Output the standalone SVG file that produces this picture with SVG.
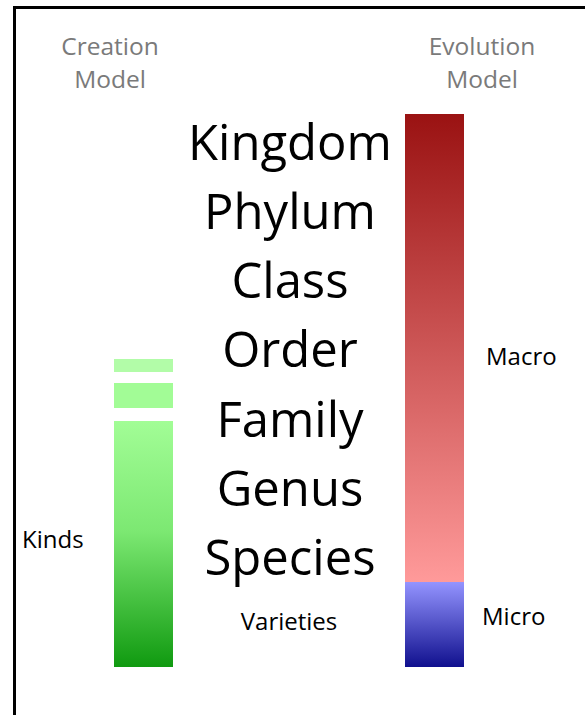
<svg xmlns="http://www.w3.org/2000/svg" width="585" height="715" viewBox="0 0 585 715">
  <style>
    .head { font-family: "Open Sans", "Noto Sans", sans-serif; font-size: 24.5px; fill: #7a7a7a; text-anchor: middle; }
    .rank { font-family: "Open Sans", "Noto Sans", sans-serif; font-size: 49px; fill: #000; text-anchor: middle; }
    .lbl { font-family: "Open Sans", "Noto Sans", sans-serif; font-size: 24px; fill: #000; }
  </style>
  <defs>
    <linearGradient id="gGreen" x1="0" y1="0" x2="0" y2="1">
      <stop offset="0" stop-color="#a2fd96"/>
      <stop offset="0.45" stop-color="#7ce872"/>
      <stop offset="1" stop-color="#109a10"/>
    </linearGradient>
    <linearGradient id="gRed" x1="0" y1="0" x2="0" y2="1">
      <stop offset="0" stop-color="#9a1212"/>
      <stop offset="1" stop-color="#ff9a9a"/>
    </linearGradient>
    <linearGradient id="gBlue" x1="0" y1="0" x2="0" y2="1">
      <stop offset="0" stop-color="#9494ff"/>
      <stop offset="1" stop-color="#10108e"/>
    </linearGradient>
  </defs>
  <rect width="585" height="715" fill="#fff"/>
  <!-- frame -->
  <path d="M14.5,715 V7.5 H585" fill="none" stroke="#000" stroke-width="3"/>

  <g id="creation-model">
    <text class="head" x="110" y="55">Creation</text>
    <text class="head" x="110" y="88">Model</text>
  </g>
  <g id="evolution-model">
    <text class="head" x="482" y="55">Evolution</text>
    <text class="head" x="482" y="88">Model</text>
  </g>

  <g id="creation-bar">
    <rect x="114" y="359" width="59" height="13" fill="#b2fca8"/>
    <rect x="114" y="383" width="59" height="25" fill="#a2fc96"/>
    <rect x="114" y="421" width="59" height="246" fill="url(#gGreen)"/>
  </g>
  <g id="evolution-bar">
    <rect x="405" y="114" width="59" height="468" fill="url(#gRed)"/>
    <rect x="405" y="582" width="59" height="85" fill="url(#gBlue)"/>
  </g>

  <g id="ranks">
    <text class="rank" x="290" y="160">Kingdom</text>
    <text class="rank" x="290" y="229">Phylum</text>
    <text class="rank" x="290" y="298">Class</text>
    <text class="rank" x="290" y="367">Order</text>
    <text class="rank" x="290" y="437">Family</text>
    <text class="rank" x="290" y="506">Genus</text>
    <text class="rank" x="290" y="575">Species</text>
  </g>

  <g id="labels">
    <text class="lbl" x="22" y="548">Kinds</text>
    <text class="lbl" x="289" y="630" text-anchor="middle">Varieties</text>
    <text class="lbl" x="486" y="365">Macro</text>
    <text class="lbl" x="482" y="625">Micro</text>
  </g>
</svg>
